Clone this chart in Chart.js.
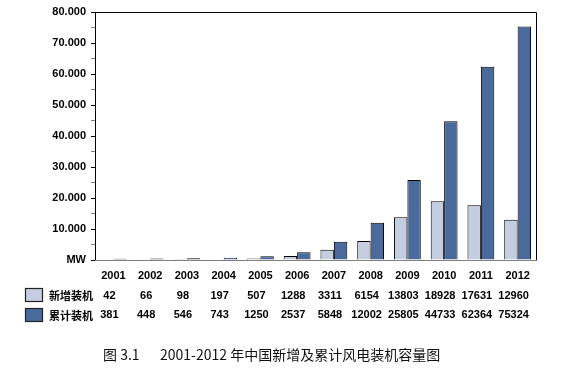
<!DOCTYPE html>
<html><head><meta charset="utf-8">
<script src="https://cdn.jsdelivr.net/npm/chart.js@4/dist/chart.umd.min.js"></script>
<style>html,body{margin:0;padding:0;background:#fff}#wrap{width:578px;height:370px;position:relative}</style>
</head><body><div id="wrap"><canvas id="c" width="578" height="370"></canvas></div>
<script>
const years = ['2001','2002','2003','2004','2005','2006','2007','2008','2009','2010','2011','2012'];
const newInstalled = [42,66,98,197,507,1288,3311,6154,13803,18928,17631,12960];
const cumulative = [381,448,546,743,1250,2537,5848,12002,25805,44733,62364,75324];
const seriesNames = ['新增装机','累计装机'];
const captionNum = '图 3.1';
const captionText = '2001-2012 年中国新增及累计风电装机容量图';
const yUnit = 'MW';

const LIGHT = '#C5CEE0', DARK = '#4A6A9B';
const latin = 'bold 11px "Liberation Sans", Arial, sans-serif';
const cjk = 'bold 11px "Noto Sans CJK SC", sans-serif';

const tablePlugin = {
  id: 'tbl',
  afterDraw(chart) {
    const ctx = chart.ctx, x = chart.scales.x, a = chart.chartArea;
    ctx.save();
    // frame top/right
    ctx.strokeStyle = '#000'; ctx.lineWidth = 1;
    ctx.beginPath();
    ctx.moveTo(a.left, a.top + 0.5); ctx.lineTo(a.right + 0.5, a.top + 0.5); ctx.lineTo(a.right + 0.5, a.bottom);
    ctx.stroke();
    ctx.strokeStyle = '#808080';
    ctx.beginPath(); ctx.moveTo(a.left, a.bottom + 0.5); ctx.lineTo(a.right + 1, a.bottom + 0.5); ctx.stroke();
    ctx.fillStyle = '#000';
    ctx.textBaseline = 'middle';
    ctx.font = latin;
    ctx.textAlign = 'center';
    years.forEach((y, i) => ctx.fillText(y, x.getPixelForValue(i), 276));
    newInstalled.forEach((v, i) => ctx.fillText(String(v), x.getPixelForValue(i) - 4, 296));
    cumulative.forEach((v, i) => ctx.fillText(String(v), x.getPixelForValue(i) - 4, 315));
    // legend keys
    const keys = [[LIGHT, 288], [DARK, 308]];
    keys.forEach(([c, top], k) => {
      ctx.fillStyle = c; ctx.fillRect(25.5, top + 0.5, 17, 13);
      ctx.strokeStyle = '#222'; ctx.lineWidth = 1.2; ctx.strokeRect(25.5, top + 0.5, 17, 13);
      ctx.fillStyle = '#000'; ctx.font = cjk; ctx.textAlign = 'left';
      ctx.fillText(seriesNames[k], 49, top + 7.5);
    });
    // caption
    ctx.font = '14px "Noto Sans CJK SC", sans-serif';
    ctx.fillStyle = '#111';
    ctx.fillText(captionNum, 103, 355);
    ctx.fillText(captionText, 160, 355);
    ctx.restore();
  }
};

new Chart(document.getElementById('c'), {
  type: 'bar',
  data: {
    labels: years,
    datasets: [
      { label: seriesNames[0], data: newInstalled, backgroundColor: LIGHT, borderColor: '#000', borderWidth: 1, borderSkipped: 'start' },
      { label: seriesNames[1], data: cumulative, backgroundColor: DARK, borderColor: '#000', borderWidth: 1, borderSkipped: 'start' }
    ]
  },
  options: {
    responsive: false, animation: false,
    layout: { padding: { left: 0, right: 42, top: 12, bottom: 110 } },
    plugins: { legend: { display: false }, tooltip: { enabled: false } },
    datasets: { bar: { categoryPercentage: 0.73, barPercentage: 1.0 } },
    scales: {
      x: { display: false },
      y: {
        min: 0, max: 80000,
        afterFit(s) { s.width = 95; },
        border: { display: true, color: '#000', width: 1 },
        grid: {
          drawOnChartArea: false, drawTicks: true, tickLength: 4,
          color: c => (c.tick && c.tick.value % 10000 === 0) ? '#000' : '#808080'
        },
        ticks: {
          stepSize: 5000, padding: 5, color: '#000', font: { family: '"Liberation Sans", Arial, sans-serif', size: 11, weight: 'bold' },
          autoSkip: false,
          callback: v => {
            if (v % 10000 !== 0) return '';
            if (v === 0) return yUnit;
            return (v / 1000) + '.000';
          }
        }
      }
    }
  },
  plugins: [tablePlugin]
});
</script></body></html>
